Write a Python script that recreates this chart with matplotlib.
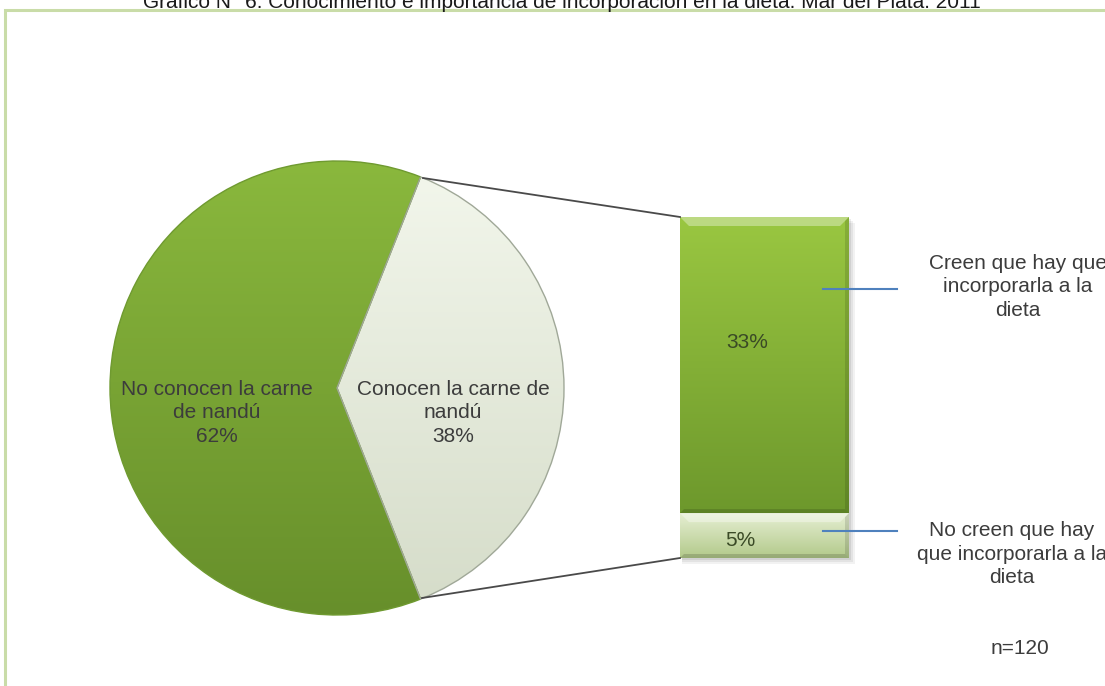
import numpy as np
import matplotlib
matplotlib.use("Agg")
import matplotlib.pyplot as plt
from matplotlib.patches import Rectangle, Polygon
from matplotlib.colors import LinearSegmentedColormap

plt.rcParams['font.family'] = ['Liberation Sans', 'DejaVu Sans']

title = "Gráfico N° 6: Conocimiento e importancia de incorporación en la dieta. Mar del Plata. 2011"

# pie: do not know / know the meat
pie_labels = ["No conocen la carne\nde nandú", "Conocen la carne de\nnandú"]
pie_values = [62, 38]

# breakdown of the 38% that know it (bottom to top)
bar_labels = ["No creen que hay\nque incorporarla a la\ndieta", "Creen que hay que\nincorporarla a la\ndieta"]
bar_values = [5, 33]

n_text = "n=120"

W, H = 1105, 686
fig = plt.figure(figsize=(W / 100, H / 100), dpi=100)
ax = fig.add_axes([0, 0, 1, 1])
ax.set_xlim(0, W)
ax.set_ylim(0, H)
ax.axis('off')


def py(y):
    # pixel row -> data y
    return H - y


def gradient(patch, top, bottom, z):
    bb = patch.get_path().get_extents(patch.get_patch_transform())
    cmap = LinearSegmentedColormap.from_list('g', [bottom, top])
    g = np.linspace(0, 1, 256).reshape(-1, 1)
    im = ax.imshow(g, cmap=cmap, origin='lower', aspect='auto',
                   extent=(bb.x0, bb.x1, bb.y0, bb.y1), zorder=z, interpolation='bilinear')
    im.set_clip_path(patch)
    return im


# frame
frame = Rectangle((5, -30), 1300, py(10) + 30, facecolor='white', edgecolor='#c9dca8', lw=2.2, zorder=0)
ax.add_patch(frame)
ax.text(562, py(8), title, ha='center', va='baseline', fontsize=15, color='#1a1a1a')

# pie
cx, cy, r = 337, py(388), 227
wedges, _ = ax.pie(pie_values, center=(cx, cy), radius=r, startangle=pie_values[1] / 200 * 360,
                   counterclock=True, frame=True, colors=['#78a333', '#e6ecdc'],
                   wedgeprops=dict(edgecolor='#a0a898', linewidth=1.0))
ax.set_xlim(0, W)
ax.set_ylim(0, H)
ax.axis('off')

pie_fills = [('#8ab83d', '#678f2b'), ('#f2f6eb', '#d6ddca')]
for w, (top, bot) in zip(wedges, pie_fills):
    gradient(w, top, bot, 1.5)
    w.set_facecolor('none')
    w.set_zorder(2)
wedges[0].set_edgecolor('#6f9a30')

pie_pos = [(217, 413), (453, 413)]
for lab, v, (tx, ty) in zip(pie_labels, pie_values, pie_pos):
    ax.text(tx, py(ty), f"{lab}\n{v}%", ha='center', va='center', fontsize=15,
            color='#3c3c3c', linespacing=1.28, zorder=5)

# stacked bar
bx0, bx1 = 680, 849
bar_bottom = py(558)
scale = (558 - 217) / sum(bar_values)
bar_fills = [('#e6efd3', '#b2c98a'), ('#9ac741', '#6d982c')]

# soft shadow behind the bar
total_h = sum(bar_values) * scale
for k, a in enumerate([0.05, 0.06, 0.08]):
    off = 6 - 2 * k
    ax.add_patch(Rectangle((bx0 + 2, bar_bottom - off), bx1 - bx0 + off - 2, total_h,
                           facecolor='black', alpha=a, lw=0, zorder=1))

bars = ax.bar([(bx0 + bx1) / 2] * 2, [v * scale for v in bar_values], width=bx1 - bx0,
              bottom=[bar_bottom, bar_bottom + bar_values[0] * scale],
              color=['#ccdcaa', '#80ad35'], edgecolor='none', zorder=2)
for b, (top, bot) in zip(bars, bar_fills):
    gradient(b, top, bot, 2.5)
    bx, by, bw, bh = b.get_x(), b.get_y(), b.get_width(), b.get_height()
    # bevel highlight along top edge
    bev = 9
    ax.add_patch(Polygon([(bx, by + bh), (bx + bw, by + bh), (bx + bw - bev, by + bh - bev), (bx + bev, by + bh - bev)],
                         closed=True, facecolor='white', alpha=0.35, lw=0, zorder=3))
    # darker sides and bottom
    ax.add_patch(Polygon([(bx + bw, by + bh), (bx + bw, by), (bx + bw - 4, by + 4), (bx + bw - 4, by + bh - 4)],
                         closed=True, facecolor='black', alpha=0.12, lw=0, zorder=3))
    ax.add_patch(Polygon([(bx, by), (bx + bw, by), (bx + bw - 4, by + 4), (bx + 4, by + 4)],
                         closed=True, facecolor='black', alpha=0.15, lw=0, zorder=3))

bar_text_pos = [(740, 540), (747, 343)]
for v, (tx, ty) in zip(bar_values, bar_text_pos):
    ax.text(tx, py(ty), f"{v}%", ha='center', va='center', fontsize=15, color='#3a4a26', zorder=5)

# connector lines between the pie slice and the bar
ax.plot([423, bx0], [py(178), py(217)], color='#4a4a4a', lw=1.3, zorder=4)
ax.plot([422, bx0], [py(598), py(558)], color='#4a4a4a', lw=1.3, zorder=4)

# leader lines and category labels
lead_y = [531, 289]
label_pos = [(1012, 554), (1018, 287)]
for lab, ly, (tx, ty) in zip(bar_labels, lead_y, label_pos):
    ax.plot([823, 897], [py(ly), py(ly)], color='#4f81bd', lw=1.5, zorder=5)
    ax.text(tx, py(ty), lab, ha='center', va='center', fontsize=15, color='#3c3c3c',
            linespacing=1.28, zorder=5)

ax.text(1020, py(648), n_text, ha='center', va='center', fontsize=15, color='#3c3c3c')

fig.savefig('out.png', dpi=100)
